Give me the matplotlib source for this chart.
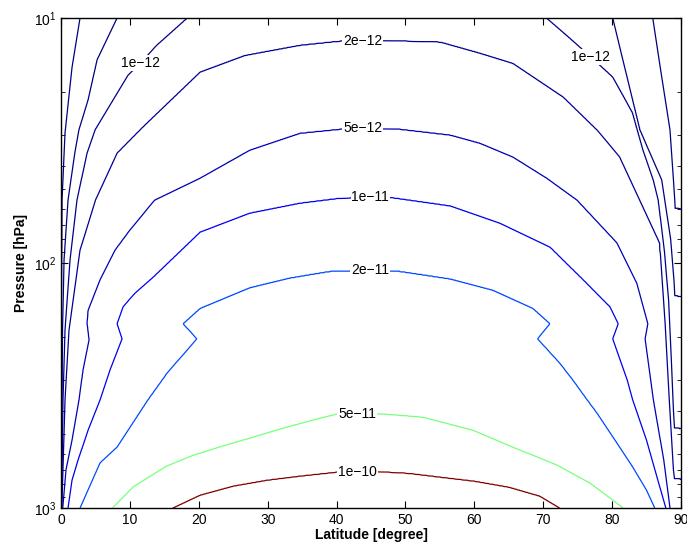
import numpy as np
import matplotlib
matplotlib.use("Agg")
import matplotlib.pyplot as plt

plt.rcParams['font.family'] = ['Liberation Sans', 'DejaVu Sans']

# contour levels
levels = [2e-13, 5e-13, 1e-12, 2e-12, 5e-12, 1e-11, 2e-11, 5e-11, 1e-10]
label_text = {2e-13: '2e\u221213', 5e-13: '5e\u221213',
              1e-12: '1e\u221212', 2e-12: '2e\u221212', 5e-12: '5e\u221212',
              1e-11: '1e\u221211', 2e-11: '2e\u221211', 5e-11: '5e\u221211',
              1e-10: '1e\u221210'}

# contour positions: (latitude [deg], pressure [hPa]), top -> bottom
c2e13_left = [(2.76, 10), (1.60, 15.9), (0.58, 29.5), (0.15, 55.3), (0.07, 142), (0.02, 1000)]
c2e13_right = [(85.9, 10), (87.0, 16), (88.4, 28.6), (88.9, 45.8), (89.1, 56), (89.15, 60.0),
               (90.0, 60.4)]
c5e13_left = [(8.13, 10), (5.23, 14.8), (3.92, 21.6), (2.6, 28.6), (2.0, 35.6), (1.02, 55.3),
              (0.44, 97.2), (0.22, 188), (0.04, 1000)]
c5e13_right = [(80.1, 10), (84.0, 28.6), (87.2, 45.8), (88.5, 80), (89.0, 120), (89.1, 136.5),
               (90.0, 137.5)]
c1e12_left = [(18.3, 10), (13.9, 12.9), (11.5, 15.3), (9.73, 17.1), (7.55, 21.6), (4.94, 28.6),
              (3.77, 35.6), (2.32, 55.3), (1.31, 97.2), (0.58, 188), (0.29, 362), (0.07, 1000)]
c1e12_right = [(70.5, 10), (73.9, 12.1), (76.9, 14.4), (80.1, 17.4), (83.0, 24.4), (84.5, 34.6),
               (86.0, 46.0), (86.7, 55.3), (87.6, 90), (88.2, 142), (88.6, 250), (88.9, 400),
               (89.05, 472), (90.0, 476)]
c2e12_left = [(44.5, 12.3), (40.5, 12.4), (34.7, 12.9), (26.7, 14.2), (20.2, 16.6), (11.9, 27.8),
              (8.13, 35.6), (5.0, 55.3), (2.76, 88.5), (1.16, 188), (0.58, 362), (0.12, 1000)]
c2e12_right = [(44.5, 12.3), (47.8, 12.35), (55.0, 12.5), (60.8, 13.9), (65.6, 15.3), (72.9, 21.0),
               (77.8, 28.6), (81.1, 36.9), (84.0, 55.3), (86.9, 82.7), (87.7, 177), (88.3, 362),
               (88.9, 700), (89.05, 760), (90.0, 765)]
c5e12_left = [(44.0, 28.1), (40.5, 28.4), (34.7, 29.5), (27.4, 34.6), (20.2, 45.0), (13.6, 55.3),
              (10.0, 73.3), (7.84, 88.5), (5.66, 117), (3.92, 156), (3.77, 176), (4.06, 206),
              (3.19, 273), (2.61, 362), (1.6, 528), (0.73, 696), (0.25, 1000)]
c5e12_right = [(44.0, 28.1), (49.2, 28.4), (56.5, 30.0), (60.8, 32.4), (65.6, 36.9), (70.5, 45.0),
               (74.9, 55.3), (80.7, 82.7), (83.6, 121), (85.2, 177), (84.8, 204), (86.0, 362),
               (87.5, 637), (88.4, 1000)]
c1e11_left = [(44.9, 53.8), (40.5, 54.3), (34.7, 56.9), (27.4, 62.5), (20.2, 74.7), (13.4, 114),
              (10.7, 133), (9.0, 151), (8.13, 177), (8.85, 204), (7.11, 273), (5.66, 362),
              (3.92, 481), (2.47, 637), (1.6, 769), (1.02, 1000)]
c1e11_right = [(44.9, 53.8), (47.8, 53.9), (56.5, 58.4), (63.7, 68.7), (71.0, 86.1), (75.8, 117),
               (79.7, 151), (80.9, 177), (80.1, 204), (82.2, 300), (83.0, 362), (85.0, 528),
               (87.8, 1000)]
c2e11_left = [(44.7, 107), (39.0, 108), (33.2, 115), (27.4, 126), (20.2, 153), (17.7, 177),
              (19.7, 204), (15.4, 281), (12.6, 362), (8.13, 564), (5.66, 654), (2.76, 1000)]
c2e11_right = [(44.7, 107), (49.2, 108), (56.5, 116), (62.7, 129), (68.5, 153), (71.0, 177),
               (69.2, 204), (72.4, 256), (74.3, 300), (76.4, 362), (77.8, 409), (81.1, 564),
               (83.0, 680), (85.0, 845), (86.2, 1000)]
c5e11_left = [(44.0, 410), (40.0, 413), (37.1, 433), (32.3, 471), (27.4, 518), (23.1, 562),
              (19.2, 608), (15.3, 674), (10.5, 818), (7.45, 1000)]
c5e11_right = [(44.0, 410), (46.0, 411), (52.5, 425), (59.8, 481), (65.6, 564), (72.0, 667),
               (76.8, 791), (80.1, 928), (81.6, 1000)]
c1e10_left = [(44.5, 706), (40.0, 713), (34.7, 740), (29.9, 769), (25.0, 813), (20.2, 885),
              (16.2, 1000)]
c1e10_right = [(44.5, 706), (50.3, 720), (55.0, 747), (60.0, 776), (65.0, 821), (69.5, 893),
               (72.4, 1000)]

branches = {
    2e-13: [c2e13_left, c2e13_right], 5e-13: [c5e13_left, c5e13_right],
    1e-12: [c1e12_left, c1e12_right], 2e-12: [c2e12_left, c2e12_right],
    5e-12: [c5e12_left, c5e12_right], 1e-11: [c1e11_left, c1e11_right],
    2e-11: [c2e11_left, c2e11_right], 5e-11: [c5e11_left, c5e11_right],
    1e-10: [c1e10_left, c1e10_right],
}

# value along the arch centre (pressure [hPa], value)
center_p = [10, 12.3, 28.1, 53.8, 107, 410, 706, 1000]
center_val = [1.6e-12, 2e-12, 5e-12, 1e-11, 2e-11, 5e-11, 1e-10, 1.5e-10]
# value at the equator and at the pole (pressure [hPa], value)
equator_p = [10, 1000]
equator_val = [1e-13, 1e-13]
pole_p = [10, 60.2, 137, 474, 762, 1000]
pole_val = [1e-13, 2e-13, 5e-13, 1e-12, 2e-12, 2.5e-12]

# label positions (lat, p)
label_pos = [(11.5, 15.3), (76.9, 14.4), (43.8, 12.3), (43.8, 28.1), (44.9, 53.8),
             (44.9, 107), (43.0, 411), (43.0, 706)]

# ---- build field on a grid ----
lat_grid = np.unique(np.concatenate([np.linspace(0, 3, 301), np.linspace(3, 87, 841),
                                     np.linspace(87, 90, 301)]))
logp_grid = np.linspace(1, 3, 601)


def crossing(branch, lp):
    b = np.array(branch, dtype=float)
    lb = np.log10(b[:, 1])
    if lp < lb.min() or lp > lb.max():
        return None
    return float(np.interp(lp, lb, b[:, 0]))


logZ = np.zeros((len(logp_grid), len(lat_grid)))
c_lp, c_lv = np.log10(center_p), np.log10(center_val)
e_lp, e_lv = np.log10(equator_p), np.log10(equator_val)
q_lp, q_lv = np.log10(pole_p), np.log10(pole_val)
for i, lp in enumerate(logp_grid):
    pts = [(0.0, float(np.interp(lp, e_lp, e_lv))), (90.0, float(np.interp(lp, q_lp, q_lv)))]
    lat_c = 45.0
    for L in levels:
        cr = [crossing(b, lp) for b in branches[L]]
        for c in cr:
            if c is not None:
                pts.append((min(max(c, 0.0), 89.999), np.log10(L)))
        if cr[0] is not None and cr[1] is not None:
            lat_c = 0.5 * (cr[0] + cr[1])
    pts.append((lat_c, float(np.interp(lp, c_lp, c_lv))))
    pts.sort()
    pl = np.array(pts)
    logZ[i] = np.interp(lat_grid, pl[:, 0], pl[:, 1])

LAT, P = np.meshgrid(lat_grid, 10 ** logp_grid)

# ---- plot ----
fig = plt.figure(figsize=(6.87, 5.49), dpi=100)
ax = fig.add_axes([61 / 687, 41 / 549, 620 / 687, 490 / 549])
jet = plt.get_cmap('jet')
vmin, vmax = min(levels), max(levels)
line_colors = [jet((L - vmin) / (vmax - vmin)) for L in levels]
cs = ax.contour(LAT, P, logZ, levels=np.log10(levels), colors=line_colors, linewidths=0.9)
ax.set_yscale('log')
ax.set_xlim(0, 90)
ax.set_ylim(1000, 10)


def fmt(v):
    k = min(label_text, key=lambda kk: abs(np.log10(kk) - v))
    return label_text[k]


texts = ax.clabel(cs, manual=label_pos, inline=False, fmt=fmt,
                  fontsize=10, colors='k')
for t in texts:
    t.set_rotation(0)
    t.set_bbox(dict(facecolor='white', edgecolor='none', pad=0.6))

ax.set_xticks(range(0, 91, 10))
ax.tick_params(which='both', direction='in', top=True, right=True, labelsize=10)
ax.tick_params(which='major', length=5)
ax.tick_params(which='minor', length=3)
for s in ax.spines.values():
    s.set_linewidth(1.0)
ax.set_xlabel('Latitude [degree]', fontsize=10, fontweight='bold', labelpad=1)
ax.set_ylabel('Pressure [hPa]', fontsize=10, fontweight='bold', labelpad=4)

fig.savefig('out.png', dpi=100)
